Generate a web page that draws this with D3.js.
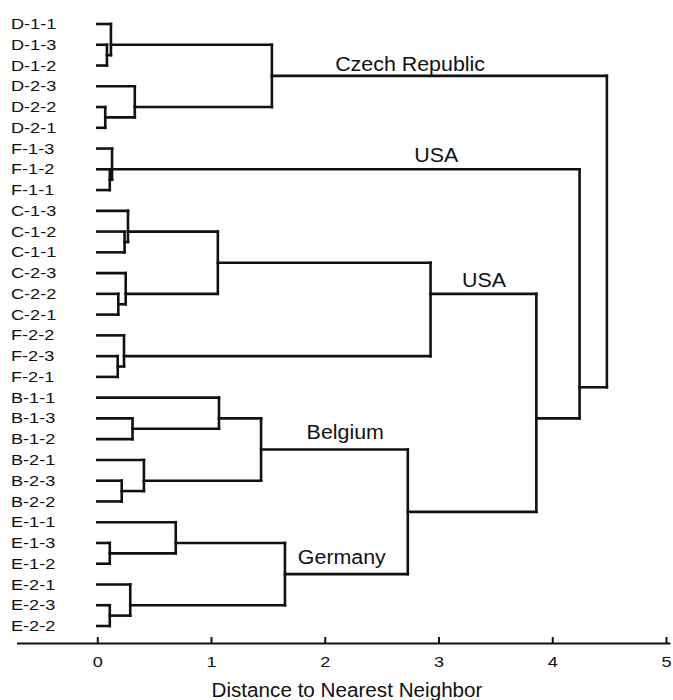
<!DOCTYPE html>
<html>
<head>
<meta charset="utf-8">
<script src="https://cdn.jsdelivr.net/npm/d3@7"></script>
<style>
  body { margin: 0; background: #fff; }
  svg { display: block; }
  text { font-family: "Liberation Sans", Arial, sans-serif; fill: #111; }
</style>
</head>
<body>
<script>
// leaf order top to bottom
var leaves = ["D-1-1","D-1-3","D-1-2","D-2-3","D-2-2","D-2-1",
              "F-1-3","F-1-2","F-1-1",
              "C-1-3","C-1-2","C-1-1","C-2-3","C-2-2","C-2-1",
              "F-2-2","F-2-3","F-2-1",
              "B-1-1","B-1-3","B-1-2","B-2-1","B-2-3","B-2-2",
              "E-1-1","E-1-3","E-1-2","E-2-1","E-2-3","E-2-2"];

// linkage: merge k joins left + right at distance; "mN" = merge N
var mergeLeft  = ["D-1-3","D-1-1","D-2-2","D-2-3","m1", "F-1-2","F-1-3",
                  "C-1-2","C-1-3","C-2-2","C-2-3","m8", "F-2-3","F-2-2","m11",
                  "B-1-3","B-1-1","B-2-3","B-2-1","m16",
                  "E-1-3","E-1-1","E-2-3","E-2-1","m21","m19","m14","m6","m4"];
var mergeRight = ["D-1-2","m0","D-2-1","m2","m3", "F-1-1","m5",
                  "C-1-1","m7","C-2-1","m9","m10", "F-2-1","m12","m13",
                  "B-1-2","m15","B-2-2","m17","m18",
                  "E-1-2","m20","E-2-2","m22","m23","m24","m25","m26","m27"];
var mergeDist  = [0.085,0.12,0.07,0.33,1.535, 0.11,0.13,
                  0.24,0.27,0.185,0.25,1.06, 0.18,0.235,2.93,
                  0.31,1.07,0.215,0.41,1.44,
                  0.11,0.69,0.11,0.29,1.65,2.73,3.86,4.24,4.48];

// cluster annotations
var labelNode = ["m4","m6","m14","m19","m24"];
var labelText = ["Czech Republic","USA","USA","Belgium","Germany"];
var labelAt   = [2.75, 2.98, 3.40, 2.18, 2.15];
var labelLift = [5, 7, 7, 11, 10];

var xTicks = [0,1,2,3,4,5];

var width = 673, height = 700;
var svg = d3.select("body").append("svg")
    .attr("width", width).attr("height", height);

var x = d3.scaleLinear().domain([-0.71, 5.035]).range([16.5, 670]);
var y = d3.scalePoint().domain(leaves).range([24, 626]);

// build tree
var nodes = {};
leaves.forEach(function(n){ nodes[n] = {name: n, dist: 0}; });
mergeDist.forEach(function(d, i){
  nodes["m" + i] = {name: "m" + i, dist: d,
                    children: [nodes[mergeLeft[i]], nodes[mergeRight[i]]]};
});
var root = d3.hierarchy(nodes["m" + (mergeDist.length - 1)]);
root.each(function(n){
  n.px = x(n.data.dist);
  n.py = d3.mean(n.leaves(), function(l){ return y(l.data.name); });
});

var line = d3.line();
var g = svg.append("g")
    .attr("fill", "none").attr("stroke", "#111")
    .attr("stroke-width", 2.6).attr("stroke-linecap", "square");

// horizontal branches
g.selectAll("path.h")
  .data(root.descendants().filter(function(d){ return d.parent; }))
  .enter().append("path").attr("class", "h")
  .attr("d", function(d){ return line([[d.px, d.py], [d.parent.px, d.py]]); });

// vertical joins
g.selectAll("path.v")
  .data(root.descendants().filter(function(d){ return d.children; }))
  .enter().append("path").attr("class", "v")
  .attr("d", function(d){
    var ys = d.children.map(function(c){ return c.py; });
    return line([[d.px, d3.min(ys)], [d.px, d3.max(ys)]]);
  });

// leaf labels
svg.append("g").selectAll("text")
  .data(leaves).enter().append("text")
  .attr("transform", function(d){ return "translate(11," + y(d) + ") scale(1.25,1)"; })
  .attr("dy", "0.35em")
  .style("font-size", "14.5px")
  .text(function(d){ return d; });

// cluster labels
var byName = {};
root.each(function(n){ byName[n.data.name] = n; });
svg.append("g").selectAll("text")
  .data(labelText).enter().append("text")
  .attr("transform", function(d, i){
    return "translate(" + x(labelAt[i]) + "," + (byName[labelNode[i]].py - labelLift[i]) + ") scale(1.07,1)";
  })
  .attr("text-anchor", "middle")
  .style("font-size", "20px")
  .text(function(d){ return d; });

// x axis
var axis = svg.append("g")
  .attr("transform", "translate(0,643)")
  .call(d3.axisBottom(x).tickValues(xTicks).tickFormat(d3.format("d"))
        .tickSizeInner(-6).tickSizeOuter(0).tickPadding(14));
axis.select(".domain").attr("stroke", "#111").attr("stroke-width", 2);
axis.selectAll(".tick line").attr("stroke", "#111").attr("stroke-width", 2);
axis.selectAll(".tick text")
  .style("font-size", "14.5px").style("fill", "#111")
  .attr("transform", "scale(1.25,1)");

svg.append("text")
  .attr("transform", "translate(347,697) scale(1.06,1)")
  .attr("text-anchor", "middle")
  .style("font-size", "19.5px")
  .text("Distance to Nearest Neighbor");
</script>
</body>
</html>
